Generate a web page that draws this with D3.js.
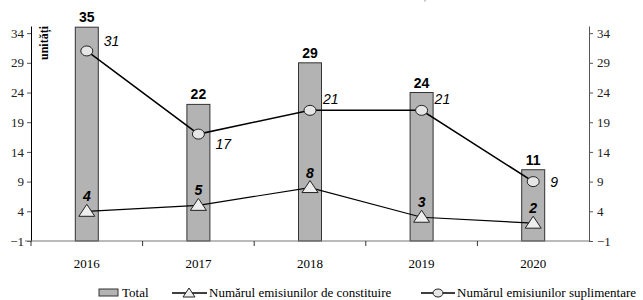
<!DOCTYPE html>
<html>
<head>
<meta charset="utf-8">
<script src="https://cdn.jsdelivr.net/npm/d3@7"></script>
<style>
  body { margin: 0; background: #fff; }
  svg { display: block; }
</style>
</head>
<body>
<svg id="chart" width="643" height="300"></svg>
<script>
var years = ["2016", "2017", "2018", "2019", "2020"];
var total = [35, 22, 29, 24, 11];
var constituire = [4, 5, 8, 3, 2];
var suplimentare = [31, 17, 21, 21, 9];
var yTicks = [-1, 4, 9, 14, 19, 24, 29, 34];

// where the italic labels of the circles sit, relative to the point
var supLabelPos = [[17, -5], [17, 15], [13, -6], [13, -6], [17, 5]];

var svg = d3.select("#chart"),
    plotL = 31, plotR = 589, plotT = 26, plotB = 241;

var x = d3.scaleBand().domain(years).range([plotL, plotR]);
var y = d3.scaleLinear().domain([-1, 35.2]).range([plotB, plotT]);
var cx = function(d) { return x(d) + x.bandwidth() / 2; };

// title, cut off by the top edge
svg.append("text")
  .attr("x", 322).attr("y", -1)
  .attr("text-anchor", "middle")
  .style("font", "bold 15px 'Liberation Sans', Arial, sans-serif")
  .style("fill", "#aaa")
  .text("Numărul emisiunilor de valori mobiliare, 2016-2020");

// bars
svg.selectAll("rect.bar").data(years).enter().append("rect")
  .attr("class", "bar")
  .attr("x", function(d) { return cx(d) - 11.5; })
  .attr("width", 23)
  .attr("y", function(d, i) { return y(total[i]); })
  .attr("height", function(d, i) { return plotB - y(total[i]); })
  .style("fill", "#b3b3b3")
  .style("stroke", "#333")
  .style("stroke-width", 1);

svg.selectAll("text.tot").data(years).enter().append("text")
  .attr("class", "tot")
  .attr("x", cx)
  .attr("y", function(d, i) { return y(total[i]) - 5; })
  .attr("text-anchor", "middle")
  .style("font", "bold 14px 'Liberation Sans', Arial, sans-serif")
  .text(function(d, i) { return total[i]; });

// axes
var axisStyle = function(g) {
  g.selectAll("path, line").style("stroke", "#555");
  g.selectAll("text").style("font", "13px 'Liberation Serif', 'Times New Roman', serif").style("fill", "#222");
};

svg.append("g").attr("transform", "translate(" + plotL + ",0)")
  .call(d3.axisLeft(y).tickValues(yTicks).tickSize(4).tickSizeOuter(0).tickPadding(3))
  .call(axisStyle)
  .call(function(g) { g.select("path").style("stroke", "#000"); });

svg.append("g").attr("transform", "translate(" + plotR + ",0)")
  .call(d3.axisRight(y).tickValues(yTicks).tickSize(4).tickSizeOuter(0).tickPadding(4))
  .call(axisStyle);

// x axis: line, ticks between the categories, labels under
var xg = svg.append("g");
xg.append("line").attr("x1", 25).attr("x2", plotR).attr("y1", plotB).attr("y2", plotB)
  .style("stroke", "#777").style("stroke-width", 1.2);
xg.selectAll("line.tk").data(d3.range(years.length)).enter().append("line")
  .attr("class", "tk")
  .attr("x1", function(i) { return plotL + i * x.step(); })
  .attr("x2", function(i) { return plotL + i * x.step(); })
  .attr("y1", plotB).attr("y2", plotB + 5)
  .style("stroke", "#333");
xg.selectAll("text.yr").data(years).enter().append("text")
  .attr("class", "yr")
  .attr("x", cx).attr("y", 268)
  .attr("text-anchor", "middle")
  .style("font", "13px 'Liberation Serif', 'Times New Roman', serif")
  .text(function(d) { return d; });

svg.append("text")
  .attr("transform", "translate(48,43) rotate(-90)")
  .attr("text-anchor", "middle")
  .style("font", "bold 12px 'Liberation Serif', 'Times New Roman', serif")
  .text("unități");

// lines
var line = function(vals) {
  return d3.line().x(function(d) { return cx(d); }).y(function(d, i) { return y(vals[i]); })(years);
};
svg.append("path").attr("d", line(suplimentare))
  .style("fill", "none").style("stroke", "#000").style("stroke-width", 1.5);
svg.append("path").attr("d", line(constituire))
  .style("fill", "none").style("stroke", "#000").style("stroke-width", 1.2);

var tri = "M0,-7L8,5L-8,5Z";
svg.selectAll("path.tri").data(years).enter().append("path")
  .attr("class", "tri")
  .attr("d", tri)
  .attr("transform", function(d, i) { return "translate(" + cx(d) + "," + y(constituire[i]) + ")"; })
  .style("fill", "#eee").style("stroke", "#222").style("stroke-width", 1);

svg.selectAll("ellipse.pt").data(years).enter().append("ellipse")
  .attr("class", "pt")
  .attr("cx", cx)
  .attr("cy", function(d, i) { return y(suplimentare[i]); })
  .attr("rx", 6).attr("ry", 5)
  .style("fill", "#e6e6e6").style("stroke", "#222").style("stroke-width", 1);

svg.selectAll("text.con").data(years).enter().append("text")
  .attr("class", "con")
  .attr("x", cx)
  .attr("y", function(d, i) { return y(constituire[i]) - 10; })
  .attr("text-anchor", "middle")
  .style("font", "italic bold 14px 'Liberation Sans', Arial, sans-serif")
  .text(function(d, i) { return constituire[i]; });

svg.selectAll("text.sup").data(years).enter().append("text")
  .attr("class", "sup")
  .attr("x", function(d, i) { return cx(d) + supLabelPos[i][0]; })
  .attr("y", function(d, i) { return y(suplimentare[i]) + supLabelPos[i][1]; })
  .style("font", "italic 14px 'Liberation Sans', Arial, sans-serif")
  .text(function(d, i) { return suplimentare[i]; });

// legend
var lg = svg.append("g").style("font", "13px 'Liberation Serif', 'Times New Roman', serif");
lg.append("rect").attr("x", 99).attr("y", 289).attr("width", 19).attr("height", 7)
  .style("fill", "#b3b3b3").style("stroke", "#333");
lg.append("text").attr("x", 122).attr("y", 297).text("Total");

lg.append("line").attr("x1", 172).attr("x2", 207).attr("y1", 293).attr("y2", 293).style("stroke", "#000").style("stroke-width", 1.5);
lg.append("path").attr("d", "M0,-5L6,4L-6,4Z").attr("transform", "translate(189,293)")
  .style("fill", "#eee").style("stroke", "#222");
lg.append("text").attr("x", 209).attr("y", 297).text("Numărul emisiunilor de constituire");

lg.append("line").attr("x1", 421).attr("x2", 455).attr("y1", 293).attr("y2", 293).style("stroke", "#000").style("stroke-width", 1.5);
lg.append("ellipse").attr("cx", 438).attr("cy", 293).attr("rx", 5).attr("ry", 4)
  .style("fill", "#e6e6e6").style("stroke", "#222");
lg.append("text").attr("x", 457).attr("y", 297).text("Numărul emisiunilor suplimentare");
</script>
</body>
</html>
